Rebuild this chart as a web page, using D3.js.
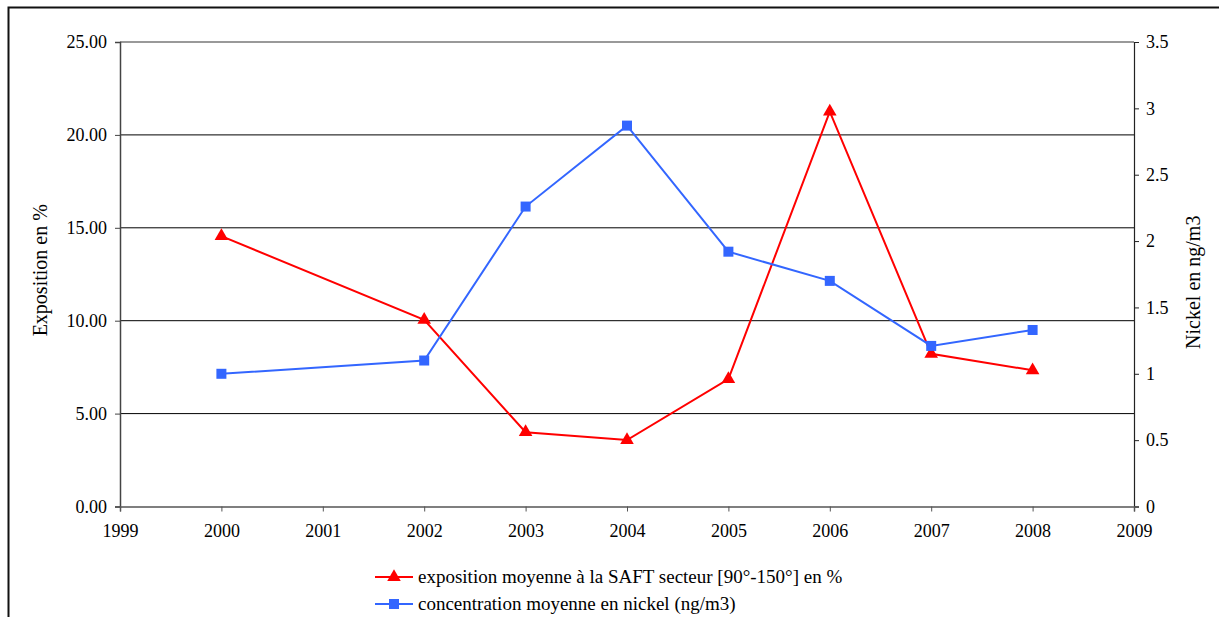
<!DOCTYPE html>
<html>
<head>
<meta charset="utf-8">
<script src="https://cdn.jsdelivr.net/npm/d3@7"></script>
<style>
  html, body { margin: 0; padding: 0; background: #fff; }
  svg { display: block; }
</style>
</head>
<body>
<svg id="chart" width="1219" height="617"></svg>
<script>
// Years of measurement
const years = [2000, 2002, 2003, 2004, 2005, 2006, 2007, 2008];
// Mean exposure to SAFT, sector [90°-150°], in %
const exposition = [14.55, 10.05, 4.0, 3.58, 6.86, 21.25, 8.22, 7.33];
// Mean nickel concentration, ng/m3
const nickel = [1.0, 1.1, 2.26, 2.87, 1.92, 1.70, 1.21, 1.33];

const xTicks = d3.range(1999, 2010);
const leftTicks = [0, 5, 10, 15, 20, 25];
const rightTicks = [0, 0.5, 1, 1.5, 2, 2.5, 3, 3.5];

const seriesNames = [
  "exposition moyenne à la SAFT secteur [90°-150°] en %",
  "concentration moyenne en nickel (ng/m3)"
];

const FONT = "'Liberation Serif', 'Times New Roman', Tinos, 'DejaVu Serif', serif";

const svg = d3.select("#chart");
const plotLeft = 120, plotRight = 1134, plotTop = 42, plotBottom = 506.5;

const x = d3.scaleLinear().domain([1999, 2009]).range([plotLeft, plotRight]);
const yL = d3.scaleLinear().domain([0, 25]).range([plotBottom, plotTop]);
const yR = d3.scaleLinear().domain([0, 3.5]).range([plotBottom, plotTop]);

// outer frame
svg.append("rect")
  .attr("x", 8.5).attr("y", 7.5)
  .attr("width", 1230).attr("height", 640)
  .attr("fill", "none").attr("stroke", "#111").attr("stroke-width", 2);

// horizontal grid lines
svg.append("g").selectAll("line")
  .data(leftTicks.filter(d => d > 0))
  .join("line")
  .attr("x1", plotLeft).attr("x2", plotRight)
  .attr("y1", d => yL(d)).attr("y2", d => yL(d))
  .attr("stroke", d => d === 25 ? "#777" : "#000")
  .attr("stroke-width", d => d === 25 ? 1.5 : 1);

function styleText(sel, size) {
  sel.attr("font-size", size).attr("fill", "#000")
    .attr("font-family", null)
    .style("font-family", FONT);
}

// left axis
const gL = svg.append("g").attr("transform", `translate(${plotLeft},0)`)
  .call(d3.axisLeft(yL).tickValues(leftTicks).tickFormat(d3.format(".2f")).tickSize(5).tickPadding(8));
gL.attr("font-family", null);
gL.select(".domain").attr("stroke", "#444").attr("stroke-width", 1.5);
gL.selectAll(".tick line").attr("stroke", "#444");
styleText(gL.selectAll("text"), 18);

// right axis
const gR = svg.append("g").attr("transform", `translate(${plotRight},0)`)
  .call(d3.axisRight(yR).tickValues(rightTicks).tickFormat(d => String(d)).tickSize(5).tickPadding(7));
gR.attr("font-family", null);
gR.select(".domain").attr("stroke", "#222").attr("stroke-width", 1.2);
gR.selectAll(".tick line").attr("stroke", "#222");
styleText(gR.selectAll("text"), 18);

// bottom axis
const gB = svg.append("g").attr("transform", `translate(0,${plotBottom})`)
  .call(d3.axisBottom(x).tickValues(xTicks).tickFormat(d3.format("d")).tickSize(5).tickPadding(13));
gB.attr("font-family", null);
gB.select(".domain").attr("stroke", "#555").attr("stroke-width", 1.5);
gB.selectAll(".tick line").attr("stroke", "#555");
styleText(gB.selectAll("text"), 18);

// axis titles
styleText(svg.append("text")
  .attr("transform", `translate(47,${(plotTop + plotBottom) / 2 - 4}) rotate(-90)`)
  .attr("text-anchor", "middle").text("Exposition en %"), 20);
styleText(svg.append("text")
  .attr("transform", `translate(1200,${(plotTop + plotBottom) / 2 + 8}) rotate(-90)`)
  .attr("text-anchor", "middle").text("Nickel en ng/m3"), 20);

const red = "#ff0000", blue = "#3366ff";

// exposure series
svg.append("path")
  .datum(years.map((y, i) => [y, exposition[i]]))
  .attr("fill", "none").attr("stroke", red).attr("stroke-width", 2)
  .attr("d", d3.line().x(d => x(d[0])).y(d => yL(d[1])));
svg.append("g").selectAll("path")
  .data(years.map((y, i) => [y, exposition[i]]))
  .join("path")
  .attr("transform", d => `translate(${x(d[0])},${yL(d[1])})`)
  .attr("d", d3.symbol(d3.symbolTriangle, 80))
  .attr("fill", red);

// nickel series
svg.append("path")
  .datum(years.map((y, i) => [y, nickel[i]]))
  .attr("fill", "none").attr("stroke", blue).attr("stroke-width", 2)
  .attr("d", d3.line().x(d => x(d[0])).y(d => yR(d[1])));
svg.append("g").selectAll("rect")
  .data(years.map((y, i) => [y, nickel[i]]))
  .join("rect")
  .attr("x", d => x(d[0]) - 5).attr("y", d => yR(d[1]) - 5)
  .attr("width", 10).attr("height", 10)
  .attr("fill", blue);

// legend
const legend = svg.append("g").attr("transform", "translate(375,577)");
[[red, "tri"], [blue, "sq"]].forEach(([c, m], i) => {
  const g = legend.append("g").attr("transform", `translate(0,${i * 27})`);
  g.append("line").attr("x1", 0).attr("x2", 38).attr("y1", 0).attr("y2", 0)
    .attr("stroke", c).attr("stroke-width", 2);
  if (m === "tri") {
    g.append("path").attr("transform", "translate(19,0)")
      .attr("d", d3.symbol(d3.symbolTriangle, 80)).attr("fill", c);
  } else {
    g.append("rect").attr("x", 14).attr("y", -5).attr("width", 10).attr("height", 10).attr("fill", c);
  }
  styleText(g.append("text").attr("x", 43).attr("y", 6).text(seriesNames[i]), 19);
});
</script>
</body>
</html>
